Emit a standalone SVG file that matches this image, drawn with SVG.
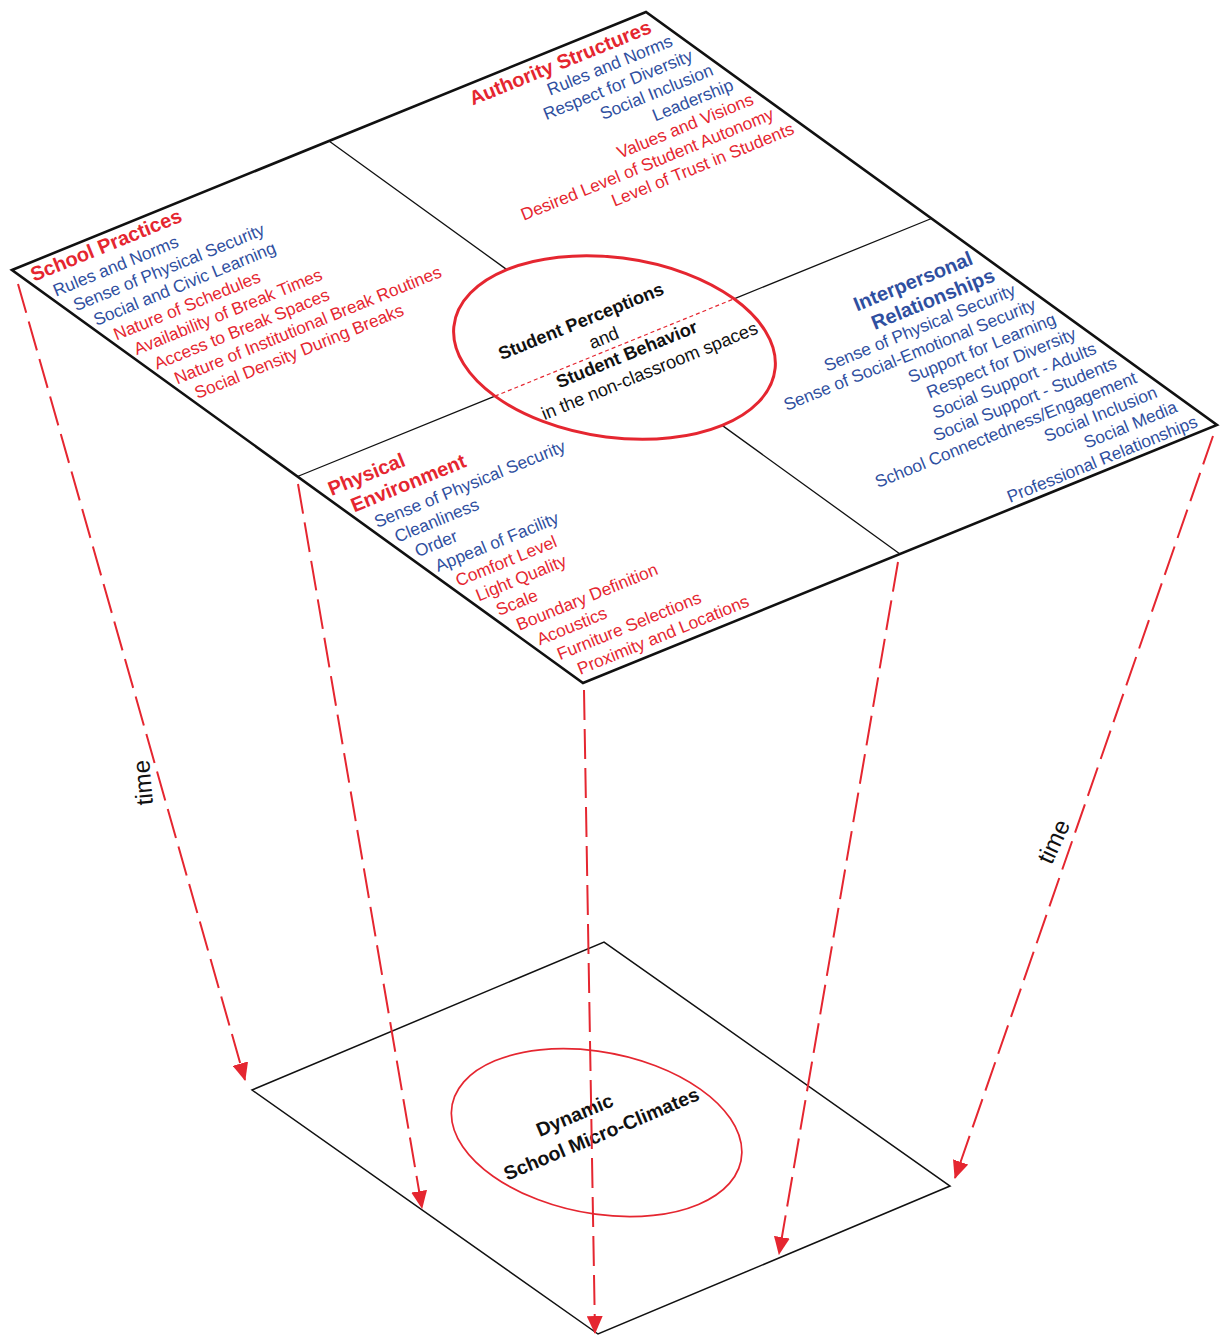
<svg xmlns="http://www.w3.org/2000/svg" width="1220" height="1336" viewBox="0 0 1220 1336">
<defs>
<marker id="arrow" markerWidth="18" markerHeight="16" refX="17" refY="8" orient="auto" markerUnits="userSpaceOnUse"><path d="M0,0 L18,8 L0,16 z" fill="#e52630"/></marker>
<style>
.t{font-family:"Liberation Sans",Arial,sans-serif;font-size:17.3px}
.h{font-weight:bold;font-size:20px}
.c{font-family:"Liberation Sans",Arial,sans-serif;font-size:18.2px;fill:#111;text-anchor:middle}
.bd{font-weight:bold}
.r{fill:#e52630}
.b{fill:#2f4fa0}
.end{text-anchor:end}
.frame{fill:#fff;stroke:#111;stroke-width:2.6;vector-effect:non-scaling-stroke}
.div{stroke:#111;stroke-width:1.3;fill:none;vector-effect:non-scaling-stroke}
.ring{fill:none;stroke:#e52630;stroke-width:3;vector-effect:non-scaling-stroke}
.inner{stroke:#e52630;stroke-width:1.2;stroke-dasharray:4 3;vector-effect:non-scaling-stroke}
.flow{fill:none;stroke:#e52630;stroke-width:2;stroke-dasharray:30 9;marker-end:url(#arrow)}
.time{font-family:"Liberation Sans",Arial,sans-serif;font-size:24px;fill:#111;text-anchor:middle}
</style>
</defs>
<rect width="1220" height="1336" fill="#fff"/>

<g id="bottom-plane" transform="matrix(0.5029 -0.2114 0.4943 0.3486 252 1090)">
<rect x="0" y="0" width="700" height="700" fill="none" stroke="#111" stroke-width="1.5" vector-effect="non-scaling-stroke"/>
</g>
<g id="micro-climates" transform="matrix(0.5029 -0.2114 0.4943 0.3486 252 1090)">
<circle cx="354" cy="337" r="206" fill="none" stroke="#e52630" stroke-width="1.7" vector-effect="non-scaling-stroke"/>
<text class="c bd" style="font-size:19.5px" transform="translate(350 302) matrix(1.833 0 -1.1458 1.9495 0 0)">Dynamic</text>
<text class="c bd" style="font-size:19.5px" transform="translate(350 356) matrix(1.833 0 -1.1458 1.9495 0 0)">School Micro-Climates</text>
</g>

<g id="top-plane" transform="matrix(0.9057 -0.3686 0.8157 0.59 12 270)">
<rect class="frame" x="0" y="0" width="700" height="700"/>
<path class="div" d="M350,0 V218 M350,482 V700 M0,350 H218 M482,350 H700"/>
</g>

<g id="school-practices" transform="matrix(0.9057 -0.3686 0.8157 0.59 12 270)">
<text class="t h r" transform="translate(4 22.5) matrix(1.0228 0 -0.6383 1.171 0 0)">School Practices</text>
<text class="t b" transform="translate(5 48.3) matrix(1.0228 0 -0.6383 1.171 0 0)">Rules and Norms</text>
<text class="t b" transform="translate(5 73.1) matrix(1.0228 0 -0.6383 1.171 0 0)">Sense of Physical Security</text>
<text class="t b" transform="translate(5 97.9) matrix(1.0228 0 -0.6383 1.171 0 0)">Social and Civic Learning</text>
<text class="t r" transform="translate(5 122.7) matrix(1.0228 0 -0.6383 1.171 0 0)">Nature of Schedules</text>
<text class="t r" transform="translate(5 147.5) matrix(1.0228 0 -0.6383 1.171 0 0)">Availability of Break Times</text>
<text class="t r" transform="translate(5 172.3) matrix(1.0228 0 -0.6383 1.171 0 0)">Access to Break Spaces</text>
<text class="t r" transform="translate(5 197.1) matrix(1.0228 0 -0.6383 1.171 0 0)">Nature of Institutional Break Routines</text>
<text class="t r" transform="translate(5 221.9) matrix(1.0228 0 -0.6383 1.171 0 0)">Social Density During Breaks</text>
</g>

<g id="authority-structures" transform="matrix(0.9057 -0.3686 0.8157 0.59 12 270)">
<text class="t h r end" transform="translate(685 25) matrix(1.0228 0 -0.6383 1.171 0 0)">Authority Structures</text>
<text class="t b end" transform="translate(687 48.6) matrix(1.0228 0 -0.6383 1.171 0 0)">Rules and Norms</text>
<text class="t b end" transform="translate(687 73.4) matrix(1.0228 0 -0.6383 1.171 0 0)">Respect for Diversity</text>
<text class="t b end" transform="translate(687 98.2) matrix(1.0228 0 -0.6383 1.171 0 0)">Social Inclusion</text>
<text class="t b end" transform="translate(687 123) matrix(1.0228 0 -0.6383 1.171 0 0)">Leadership</text>
<text class="t r end" transform="translate(687 147.8) matrix(1.0228 0 -0.6383 1.171 0 0)">Values and Visions</text>
<text class="t r end" transform="translate(687 172.6) matrix(1.0228 0 -0.6383 1.171 0 0)">Desired Level of Student Autonomy</text>
<text class="t r end" transform="translate(687 197.4) matrix(1.0228 0 -0.6383 1.171 0 0)">Level of Trust in Students</text>
</g>

<g id="interpersonal-relationships" transform="matrix(0.9057 -0.3686 0.8157 0.59 12 270)">
<text class="t h b end" transform="translate(686 418) matrix(1.0228 0 -0.6383 1.171 0 0)">Interpersonal</text>
<text class="t h b end" transform="translate(685 446) matrix(1.0228 0 -0.6383 1.171 0 0)">Relationships</text>
<text class="t b end" transform="translate(686 470) matrix(1.0228 0 -0.6383 1.171 0 0)">Sense of Physical Security</text>
<text class="t b end" transform="translate(686 494.8) matrix(1.0228 0 -0.6383 1.171 0 0)">Sense of Social-Emotional Security</text>
<text class="t b end" transform="translate(686 519.6) matrix(1.0228 0 -0.6383 1.171 0 0)">Support for Learning</text>
<text class="t b end" transform="translate(686 544.4) matrix(1.0228 0 -0.6383 1.171 0 0)">Respect for Diversity</text>
<text class="t b end" transform="translate(686 569.2) matrix(1.0228 0 -0.6383 1.171 0 0)">Social Support - Adults</text>
<text class="t b end" transform="translate(686 594) matrix(1.0228 0 -0.6383 1.171 0 0)">Social Support - Students</text>
<text class="t b end" transform="translate(686 618.8) matrix(1.0228 0 -0.6383 1.171 0 0)">School Connectedness/Engagement</text>
<text class="t b end" transform="translate(686 643.6) matrix(1.0228 0 -0.6383 1.171 0 0)">Social Inclusion</text>
<text class="t b end" transform="translate(686 668.4) matrix(1.0228 0 -0.6383 1.171 0 0)">Social Media</text>
<text class="t b end" transform="translate(686 693.2) matrix(1.0228 0 -0.6383 1.171 0 0)">Professional Relationships</text>
</g>

<g id="physical-environment" transform="matrix(0.9057 -0.3686 0.8157 0.59 12 270)">
<text class="t h r" transform="translate(5 386) matrix(1.0228 0 -0.6383 1.171 0 0)">Physical</text>
<text class="t h r" transform="translate(5 414) matrix(1.0228 0 -0.6383 1.171 0 0)">Environment</text>
<text class="t b" transform="translate(6 441) matrix(1.0228 0 -0.6383 1.171 0 0)">Sense of Physical Security</text>
<text class="t b" transform="translate(6 465.9) matrix(1.0228 0 -0.6383 1.171 0 0)">Cleanliness</text>
<text class="t b" transform="translate(6 490.8) matrix(1.0228 0 -0.6383 1.171 0 0)">Order</text>
<text class="t b" transform="translate(6 515.7) matrix(1.0228 0 -0.6383 1.171 0 0)">Appeal of Facility</text>
<text class="t r" transform="translate(6 540.6) matrix(1.0228 0 -0.6383 1.171 0 0)">Comfort Level</text>
<text class="t r" transform="translate(6 565.5) matrix(1.0228 0 -0.6383 1.171 0 0)">Light Quality</text>
<text class="t r" transform="translate(6 590.4) matrix(1.0228 0 -0.6383 1.171 0 0)">Scale</text>
<text class="t r" transform="translate(6 615.3) matrix(1.0228 0 -0.6383 1.171 0 0)">Boundary Definition</text>
<text class="t r" transform="translate(6 640.2) matrix(1.0228 0 -0.6383 1.171 0 0)">Acoustics</text>
<text class="t r" transform="translate(6 665.1) matrix(1.0228 0 -0.6383 1.171 0 0)">Furniture Selections</text>
<text class="t r" transform="translate(6 690) matrix(1.0228 0 -0.6383 1.171 0 0)">Proximity and Locations</text>
</g>

<g id="student-perceptions" transform="matrix(0.9057 -0.3686 0.8157 0.59 12 270)">
<circle class="ring" cx="350" cy="350" r="132"/>
<line class="inner" x1="218" y1="350" x2="482" y2="350"/>
<text class="c bd" transform="translate(348 314) matrix(1.0228 0 -0.6383 1.171 0 0)">Student Perceptions</text>
<text class="c" transform="translate(348 342) matrix(1.0228 0 -0.6383 1.171 0 0)">and</text>
<text class="c bd" transform="translate(348 370) matrix(1.0228 0 -0.6383 1.171 0 0)">Student Behavior</text>
<text class="c" transform="translate(348 398) matrix(1.0228 0 -0.6383 1.171 0 0)">in the non-classroom spaces</text>
</g>

<g id="connectors">
<path class="flow" d="M18,284 L245,1080"/>
<path class="flow" d="M298,484 L422,1208"/>
<path class="flow" d="M584,690 L595,1333"/>
<path class="flow" d="M898,562 L779,1254"/>
<path class="flow" d="M1213,436 L955,1178"/>
<text class="time" transform="translate(151,782) rotate(-95)">time</text>
<text class="time" transform="translate(1061,845) rotate(-65)">time</text>
</g>
</svg>
